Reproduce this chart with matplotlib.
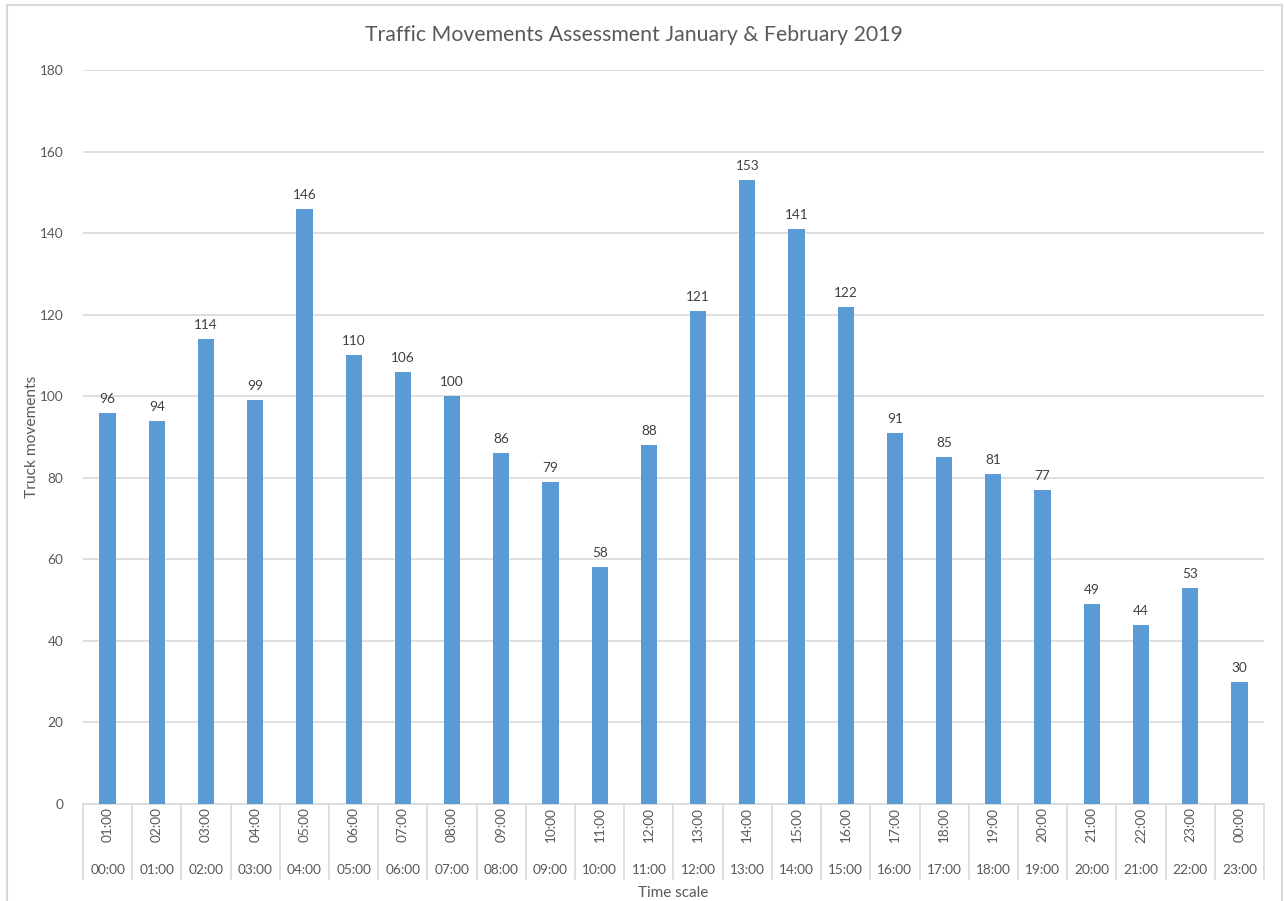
import matplotlib

matplotlib.use("Agg")

import matplotlib.pyplot as plt
from matplotlib.patches import Rectangle

end_hours = ["01:00", "02:00", "03:00", "04:00", "05:00", "06:00", "07:00", "08:00",
             "09:00", "10:00", "11:00", "12:00", "13:00", "14:00", "15:00", "16:00",
             "17:00", "18:00", "19:00", "20:00", "21:00", "22:00", "23:00", "00:00"]
start_hours = ["00:00", "01:00", "02:00", "03:00", "04:00", "05:00", "06:00", "07:00",
               "08:00", "09:00", "10:00", "11:00", "12:00", "13:00", "14:00", "15:00",
               "16:00", "17:00", "18:00", "19:00", "20:00", "21:00", "22:00", "23:00"]
movements = [96, 94, 114, 99, 146, 110, 106, 100, 86, 79, 58, 88,
             121, 153, 141, 122, 91, 85, 81, 77, 49, 44, 53, 30]

TEXT = "#595959"
GRID = "#d9d9d9"
BAR = "#5b9bd5"

plt.rcParams["font.family"] = ["Lato", "DejaVu Sans"]

W, H = 1284, 901
fig = plt.figure(figsize=(W / 100, H / 100), dpi=100)

# outer chart border (bottom edge falls outside the image, as in the screenshot)
fig.patches.append(Rectangle((7 / W, -0.02), (1282 - 7) / W, 1.02 - 5 / H,
                             transform=fig.transFigure, fill=False,
                             edgecolor=GRID, linewidth=1.5))

left, right, top, bottom = 83, 1264, 70, 804
ax = fig.add_axes([left / W, 1 - bottom / H, (right - left) / W, (bottom - top) / H])

x = list(range(len(movements)))
ax.bar(x, movements, width=0.33, color=BAR, zorder=3)
for xi, v in zip(x, movements):
    ax.annotate(str(v), (xi, v), xytext=(0, 8), textcoords="offset pixels",
                ha="center", va="bottom", fontsize=9.8, color="#404040")

ax.set_xlim(-0.5, len(movements) - 0.5)
ax.set_ylim(0, 180)
ax.set_yticks(range(0, 181, 20))
ax.tick_params(axis="y", length=0, pad=14, labelsize=9.8, labelcolor=TEXT)
ax.set_xticks([])
ax.grid(axis="y", color=GRID, linewidth=1.2, zorder=0)
for side in ["left", "right", "top"]:
    ax.spines[side].set_visible(False)
ax.spines["bottom"].set_color(GRID)
ax.spines["bottom"].set_linewidth(1.2)

# two-level category axis
sep_depth = -(879 - bottom) / (bottom - top)
for i in range(len(movements) + 1):
    ax.plot([i - 0.5, i - 0.5], [0, sep_depth], transform=ax.get_xaxis_transform(),
            color=GRID, linewidth=1.2, clip_on=False)
for xi, a, b in zip(x, end_hours, start_hours):
    ax.annotate(a, (xi, 0), xycoords=("data", "axes fraction"), xytext=(0, -21),
                textcoords="offset pixels", rotation=90, ha="center", va="center",
                fontsize=9.8, color=TEXT)
    ax.annotate(b, (xi, 0), xycoords=("data", "axes fraction"), xytext=(0, -66),
                textcoords="offset pixels", ha="center", va="center",
                fontsize=9.8, color=TEXT)

fig.text((left + right) / 2 / W, 1 - 893 / H, "Time scale", ha="center", va="center",
         fontsize=11, color=TEXT)
fig.text(32 / W, 1 - 437 / H, "Truck movements", rotation=90, ha="center", va="center",
         fontsize=11.2, color=TEXT)
fig.text(634 / W, 1 - 35 / H, "Traffic Movements Assessment January & February 2019",
         ha="center", va="center", fontsize=15.3, color=TEXT)

fig.savefig("out.png", dpi=100)
